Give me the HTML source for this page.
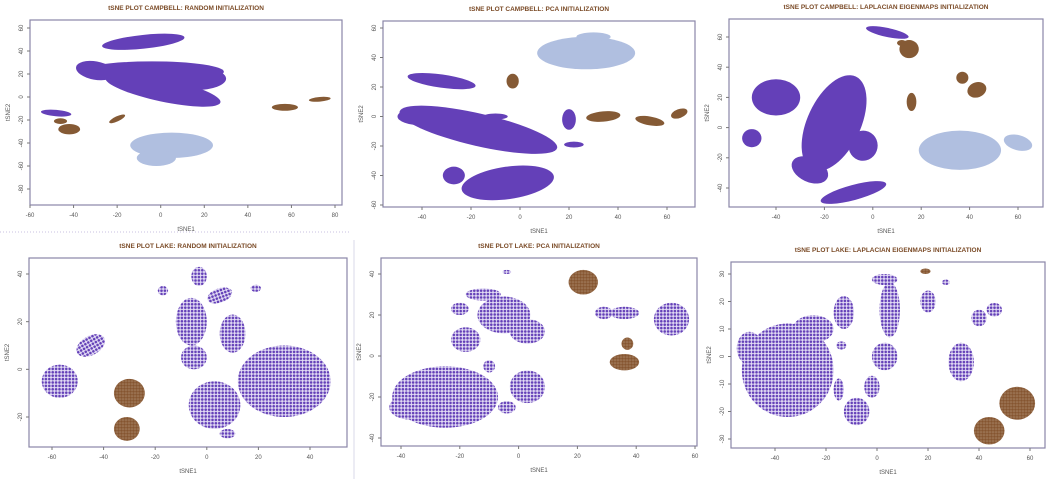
<!DOCTYPE html>
<html><head><meta charset="utf-8">
<style>
html,body{margin:0;padding:0;background:#fff;}
svg{display:block;font-family:"Liberation Sans",sans-serif;}
</style></head>
<body>
<svg id="chart" width="1051" height="479" viewBox="0 0 1051 479" xmlns="http://www.w3.org/2000/svg">
<defs>
<pattern id="dotsP" width="3.4" height="3.4" patternUnits="userSpaceOnUse"><rect width="3.4" height="3.4" fill="#e4def5"/><circle cx="1.7" cy="1.7" r="1.3" fill="#6440b8"/></pattern>
<pattern id="dotsB" width="3" height="3" patternUnits="userSpaceOnUse"><rect width="3" height="3" fill="#a07a5a"/><circle cx="1.5" cy="1.5" r="1.3" fill="#855530"/></pattern>
</defs>
<line x1="0" y1="232" x2="350" y2="232" stroke="#c8c0e0" stroke-dasharray="1,2"/>
<line x1="354" y1="240" x2="354" y2="479" stroke="#d8d8e8"/>
</svg>
<script>
// ---- data (tSNE units): [cx, cy, rx, ry, screenAngleDeg, group]  group: P=purple, B=brown, L=lightblue
const p1Clusters=[
 [-8,48,19,6,-6,'P'],[-4,22,33,9,0,'P'],[1,6,27,10,12,'P'],[16,16,14,10,0,'P'],[-30,23,9,8,10,'P'],
 [-48,-14,7,2.8,5,'P'],[-46,-21,3,2.5,0,'B'],[-42,-28,5,4.5,0,'B'],[-20,-19,4,2.2,-25,'B'],
 [57,-9,6,3,0,'B'],[73,-2,5,2,-5,'B'],[5,-42,19,11,0,'L'],[-2,-53,9,7,0,'L']];
const p2Clusters=[
 [27,43,20,11,0,'L'],[30,54,7,3,0,'L'],[-3,24,2.5,5,0,'B'],[34,0,7,3.5,-5,'B'],[53,-3,6,3,10,'B'],[65,2,3.5,3,-20,'B'],
 [-32,24,14,4.5,8,'P'],[-17,-9,33,11,13,'P'],[-40,0,10,6,0,'P'],[-5,-45,19,11,-8,'P'],[-27,-40,4.5,6,0,'P'],
 [20,-2,2.8,7,0,'P'],[22,-19,4,2,0,'P'],[-10,0,5,2,0,'P'],[-35,3,6,1.8,5,'P']];
const p3Clusters=[
 [6,63,9,3,12,'P'],[15,52,4,6,0,'B'],[12,56,2,2,0,'B'],[37,33,2.5,4,0,'B'],[43,25,4,5,-20,'B'],[16,17,2,6,0,'B'],
 [-40,20,10,12,0,'P'],[-16,3,11,34,25,'P'],[-4,-12,6,10,10,'P'],[-50,-7,4,6,0,'P'],[-8,-43,14,5,-15,'P'],[-26,-28,8,8,25,'P'],
 [36,-15,17,13,0,'L'],[60,-10,6,5,15,'L']];
const p4Clusters=[
 [-57,-5,7,7,0,'P'],[-45,10,6,4,-30,'P'],[-3,39,3,4,0,'P'],[-17,33,2,2,0,'P'],[19,34,2,1.5,0,'P'],[5,31,5,3,-20,'P'],
 [-6,20,6,10,0,'P'],[-5,5,5,5,0,'P'],[10,15,5,8,0,'P'],[30,-5,18,15,0,'P'],[3,-15,10,10,0,'P'],[8,-27,3,2,0,'P'],
 [-30,-10,6,6,0,'B'],[-31,-25,5,5,0,'B']];
const p5Clusters=[
 [-25,-20,18,15,0,'P'],[-37,-25,7,6,0,'P'],[-18,8,5,6,0,'P'],[-5,20,9,9,0,'P'],[-12,30,6,3,0,'P'],[3,12,6,6,0,'P'],
 [-20,23,3,3,0,'P'],[-10,-5,2,3,0,'P'],[3,-15,6,8,0,'P'],[-4,-25,3,3,0,'P'],[-4,41,1.5,1,0,'P'],[29,21,3,3,0,'P'],
 [36,21,5,3,0,'P'],[52,18,6,8,0,'P'],[22,36,5,6,0,'B'],[36,-3,5,4,0,'B'],[37,6,2,3,0,'B']];
const p6Clusters=[
 [-35,-5,18,17,0,'P'],[-50,3,5,6,0,'P'],[-25,10,8,5,0,'P'],[-13,16,4,6,0,'P'],[-14,4,2,1.5,0,'P'],[-8,-20,5,5,0,'P'],
 [-15,-12,2,4,0,'P'],[3,0,5,5,0,'P'],[5,17,4,10,0,'P'],[3,28,5,2,0,'P'],[20,20,3,4,0,'P'],[27,27,1.5,1,0,'P'],
 [33,-2,5,7,0,'P'],[40,14,3,3,0,'P'],[46,17,3,2.5,0,'P'],[-2,-11,3,4,0,'P'],
 [55,-17,7,6,0,'B'],[44,-27,6,5,0,'B'],[19,31,2,1,0,'B']];
const titles=["tSNE PLOT CAMPBELL: RANDOM INITIALIZATION","tSNE PLOT CAMPBELL: PCA INITIALIZATION","tSNE PLOT CAMPBELL: LAPLACIAN EIGENMAPS INITIALIZATION",
 "tSNE PLOT LAKE: RANDOM INITIALIZATION","tSNE PLOT LAKE: PCA INITIALIZATION","tSNE PLOT LAKE: LAPLACIAN EIGENMAPS INITIALIZATION"];
const xTicks=[[-60,-40,-20,0,20,40,60,80],[-40,-20,0,20,40,60],[-40,-20,0,20,40,60],[-60,-40,-20,0,20,40],[-40,-20,0,20,40,60],[-40,-20,0,20,40,60]];
const yTicks=[[-80,-60,-40,-20,0,20,40,60],[-60,-40,-20,0,20,40,60],[-40,-20,0,20,40,60],[-20,0,20,40],[-40,-20,0,20,40],[-30,-20,-10,0,10,20,30]];
const allClusters=[p1Clusters,p2Clusters,p3Clusters,p4Clusters,p5Clusters,p6Clusters];

// ---- layout (pixels)
const panels=[
 {box:[30,20,342,205],x:[-60,30,80,335],y:[60,28,-80,189],lake:false},
 {box:[383,21,695,207],x:[-40,422,60,667],y:[60,28,-60,205],lake:false},
 {box:[729,19,1043,207],x:[-40,776,60,1018],y:[60,37,-40,188],lake:false},
 {box:[29,258,347,447],x:[-60,52,40,310],y:[40,274,-20,417],lake:true},
 {box:[381,258,697,446],x:[-40,401,60,695],y:[40,274,-40,438],lake:true},
 {box:[731,262,1045,448],x:[-40,775,60,1030],y:[30,274,-30,439],lake:true}];
const NS='http://www.w3.org/2000/svg';
const svg=document.getElementById('chart');
function mk(tag,attrs,parent){const e=document.createElementNS(NS,tag);for(const k in attrs)e.setAttribute(k,attrs[k]);(parent||svg).appendChild(e);return e;}
panels.forEach((p,i)=>{
  const g=mk('g',{});
  
  
  const xs=(p.x[3]-p.x[1])/(p.x[2]-p.x[0]), ys=(p.y[3]-p.y[1])/(p.y[2]-p.y[0]);
  const X=v=>p.x[1]+(v-p.x[0])*xs, Y=v=>p.y[1]+(v-p.y[0])*ys;
  const [l,t,r,b]=p.box;
  const ttl=mk('text',{x:(l+r)/2,y:t-10,'text-anchor':'middle','font-size':'6.5','font-weight':'bold',fill:'#7a4a26'},g);
  ttl.textContent=titles[i];
  
  
  const pts=mk('g',{},g);
  
  
  allClusters[i].forEach(c=>{
    let fill;
    if(c[5]==='L') fill='#b0bfe0';
    else if(c[5]==='B') fill=p.lake?'url(#dotsB)':'#855a35';
    else fill=p.lake?'url(#dotsP)':'#6440b8';
    const e=mk('ellipse',{cx:X(c[0]),cy:Y(c[1]),rx:Math.abs(c[2]*xs),ry:Math.abs(c[3]*ys),fill:fill,
      transform:'rotate('+c[4]+' '+X(c[0])+' '+Y(c[1])+')'},pts);
    
    
  });
  const box=mk('rect',{x:l,y:t,width:r-l,height:b-t,fill:'none',stroke:'#8a86a8','stroke-width':'1.2'},g);
  
  
  xTicks[i].forEach(v=>{
    mk('line',{x1:X(v),x2:X(v),y1:b,y2:b+3,stroke:'#777'},g);
    const tx=mk('text',{x:X(v),y:b+12,'text-anchor':'middle','font-size':'6',fill:'#555'},g);
    tx.textContent=v;
    
    
  });
  yTicks[i].forEach(v=>{
    mk('line',{x1:l-3,x2:l,y1:Y(v),y2:Y(v),stroke:'#777'},g);
    const ty=mk('text',{x:l-7,y:Y(v),'text-anchor':'middle','font-size':'6',fill:'#555',transform:'rotate(-90 '+(l-7)+' '+Y(v)+')'},g);
    ty.textContent=v;
    
    
  });
  const xt=mk('text',{x:(l+r)/2,y:b+26,'text-anchor':'middle','font-size':'6',fill:'#555'},g);
  xt.textContent='tSNE1';
  
  
  const yx=l-20, yy=(t+b)/2;
  const yt=mk('text',{x:yx,y:yy,'text-anchor':'middle','font-size':'6',fill:'#555',transform:'rotate(-90 '+yx+' '+yy+')'},g);
  yt.textContent='tSNE2';
  
  
});
</script>
</body></html>
